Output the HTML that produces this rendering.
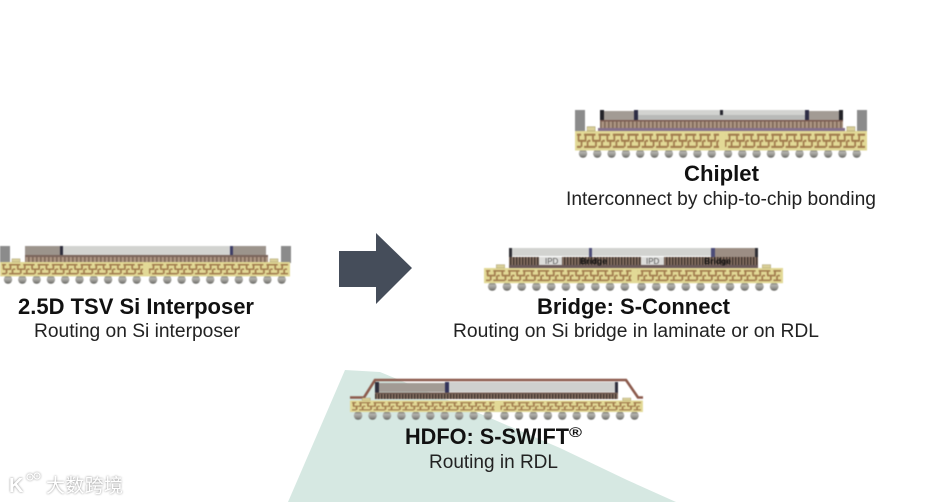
<!DOCTYPE html>
<html><head><meta charset="utf-8"><style>
html,body{margin:0;padding:0;background:#fff;width:936px;height:502px;overflow:hidden}
svg{display:block}
text{font-family:"Liberation Sans","Noto Sans CJK SC",sans-serif;fill:#111}
.t{font-weight:bold;font-size:22px}
.s{font-size:19px;fill:#222}
.p{filter:blur(.45px)}
.l{filter:blur(.25px)}
</style></head><body>
<svg width="936" height="502" viewBox="0 0 936 502" xmlns="http://www.w3.org/2000/svg">
<defs>
<pattern id="brick" width="14.3" height="16" patternUnits="userSpaceOnUse">
<g stroke="#a07a4c" stroke-width="1.7" fill="none">
<path d="M0 3H6M9 3H14.3M3 8H11M0 8H1M13 8H14.3M0 13H6M9 13H14.3M3.5 3V8M10.5 3V8M6.5 8V13M12.5 8V13"/>
</g>
</pattern>
<linearGradient id="ball" x1="0" y1="0" x2="0" y2="1"><stop offset="0" stop-color="#6f6e68"/><stop offset=".35" stop-color="#b4b3ad"/><stop offset=".75" stop-color="#8d8c88"/><stop offset="1" stop-color="#5c5c56"/></linearGradient>
<pattern id="fine" width="4" height="8" patternUnits="userSpaceOnUse">
<rect width="4" height="8" fill="#ad9584"/><rect width="1.6" height="8" fill="#7e6858"/>
</pattern>
<pattern id="bridgep" width="3" height="8" patternUnits="userSpaceOnUse">
<rect width="3" height="8" fill="#8a7466"/><rect width="1.4" height="8" fill="#3f342e"/>
</pattern>
<g id="balls">
<g fill="url(#ball)">
<circle cx="8" cy="3.6" r="4.2"/><circle cx="22.3" cy="3.6" r="4.2"/><circle cx="36.6" cy="3.6" r="4.2"/><circle cx="50.9" cy="3.6" r="4.2"/><circle cx="65.2" cy="3.6" r="4.2"/><circle cx="79.5" cy="3.6" r="4.2"/><circle cx="93.8" cy="3.6" r="4.2"/><circle cx="108.1" cy="3.6" r="4.2"/><circle cx="122.4" cy="3.6" r="4.2"/><circle cx="136.7" cy="3.6" r="4.2"/>
<circle cx="153" cy="3.6" r="4.2"/><circle cx="167.3" cy="3.6" r="4.2"/><circle cx="181.6" cy="3.6" r="4.2"/><circle cx="195.9" cy="3.6" r="4.2"/><circle cx="210.2" cy="3.6" r="4.2"/><circle cx="224.5" cy="3.6" r="4.2"/><circle cx="238.8" cy="3.6" r="4.2"/><circle cx="253.1" cy="3.6" r="4.2"/><circle cx="267.4" cy="3.6" r="4.2"/><circle cx="281.7" cy="3.6" r="4.2"/>
</g>
</g>
<g id="sub">
<rect width="290" height="16" fill="#e2d996"/>
<rect x="2" width="141" height="16" fill="url(#brick)"/>
<rect x="149" width="139" height="16" fill="url(#brick)"/>
<rect x="12" y="-3.5" width="8" height="3.5" fill="#d9cf98" stroke="#a89e70" stroke-width=".5"/>
<rect x="270" y="-3.5" width="8" height="3.5" fill="#d9cf98" stroke="#a89e70" stroke-width=".5"/>
</g>
</defs>
<rect width="936" height="502" fill="#fff"/>

<!-- teal wedge -->
<polygon points="345,370 380,372 467,408 560,448 627,480 676,502 288,502" fill="#d6e8e2"/>

<!-- arrow -->
<polygon points="339,251 376,251 376,233 412,268 376,304 376,287 339,287" fill="#454d5a"/>

<!-- Interposer -->
<g class="p">
<rect x="0" y="246" width="10" height="17" fill="#8b8b8b"/>
<rect x="281" y="246" width="10" height="17" fill="#8b8b8b"/>
<rect x="25" y="246" width="38" height="10" fill="#9c948c"/>
<rect x="63" y="246" width="167" height="9" fill="#d2d3d0"/>
<rect x="60" y="246" width="3" height="10" fill="#2e2e3c"/>
<rect x="230" y="246" width="3" height="10" fill="#3e3e66"/>
<rect x="233" y="246" width="33" height="10" fill="#9c948c"/>
<rect x="25" y="255" width="243" height="2" fill="#7b655c"/>
<rect x="25" y="257" width="243" height="5" fill="url(#fine)"/>
<use href="#balls" x="0" y="276"/>
<g transform="translate(0 262) scale(1 .9)"><use href="#sub"/></g>
</g>

<!-- Chiplet -->
<g class="p">
<rect x="575" y="110" width="10" height="21" fill="#8b8b8b"/>
<rect x="857" y="110" width="10" height="21" fill="#8b8b8b"/>
<rect x="600" y="110" width="4" height="10" fill="#232328"/>
<rect x="634" y="110" width="4" height="10" fill="#2d2d44"/>
<rect x="604" y="111" width="30" height="9" fill="#a29b94"/>
<rect x="638" y="110" width="167" height="5" fill="#d2d3d0"/>
<rect x="638" y="115" width="167" height="5" fill="#b8bab8"/>
<rect x="720" y="110" width="3" height="5" fill="#26262e"/>
<rect x="805" y="110" width="4" height="10" fill="#2d2d44"/>
<rect x="809" y="111" width="30" height="9" fill="#a29b94"/>
<rect x="839" y="110" width="4" height="10" fill="#232328"/>
<rect x="600" y="120" width="243" height="1.5" fill="#7b5a50"/>
<rect x="600" y="121.5" width="243" height="7" fill="url(#fine)"/>
<rect x="598" y="128" width="247" height="3" fill="#84708c"/>
<use href="#balls" x="575" y="150"/>
<g transform="translate(575 131) scale(1.007 1.22)"><use href="#sub"/></g>
</g>

<!-- Bridge -->
<g class="p">
<rect x="509" y="248" width="3" height="9" fill="#2e2e34"/>
<rect x="512" y="248" width="191" height="8" fill="#d2d3d0"/>
<rect x="589" y="248" width="3" height="9" fill="#4c4c78"/>
<rect x="711" y="248" width="4" height="9" fill="#4c4c78"/>
<rect x="715" y="248" width="40" height="9" fill="#9c8e84"/>
<rect x="703" y="248" width="8" height="8" fill="#d2d3d0"/>
<rect x="755" y="248" width="3" height="9" fill="#2e2e34"/>
<rect x="509" y="257" width="249" height="9" fill="url(#bridgep)"/>
<rect x="539" y="257" width="23" height="8" fill="#dcdcda"/>
<rect x="641" y="257" width="23" height="8" fill="#dcdcda"/>
<rect x="509" y="265" width="249" height="3" fill="#6b5a5a"/>
<text x="545" y="264" font-size="8" style="fill:#555">IPD</text>
<text x="646" y="264" font-size="8" style="fill:#555">IPD</text>
<text x="580" y="264" font-size="8" font-weight="bold" textLength="27" lengthAdjust="spacingAndGlyphs">Bridge</text>
<text x="704" y="264" font-size="8" font-weight="bold" textLength="27" lengthAdjust="spacingAndGlyphs">Bridge</text>
<g transform="translate(484 283) scale(1.03 1)"><use href="#balls"/></g>
<g transform="translate(484 268) scale(1.031 .95)"><use href="#sub"/></g>
</g>

<!-- HDFO -->
<g class="p">
<polyline points="350,397.5 364,397.5 375,380 626,380 638,397.5 643,397.5" fill="none" stroke="#8b5a4c" stroke-width="2.6"/>
<rect x="375" y="382" width="4" height="11" fill="#2e2e3c"/>
<rect x="379" y="383" width="66" height="9" fill="#a29b94"/>
<rect x="445" y="382" width="4" height="11" fill="#33335a"/>
<rect x="449" y="382" width="166" height="10" fill="#cfd0ce"/>
<rect x="615" y="382" width="3" height="11" fill="#2e2e3c"/>
<rect x="375" y="392.5" width="243" height="1.5" fill="#6f5a50"/>
<rect x="375" y="394" width="243" height="5" fill="url(#bridgep)"/>
<g transform="translate(350 412) scale(1.01 1)"><use href="#balls"/></g>
<g transform="translate(350 400.5) scale(1.01 .72)"><use href="#sub"/></g>
</g>

<!-- labels -->
<g class="l">
<text class="t" x="684" y="181" textLength="75" lengthAdjust="spacingAndGlyphs">Chiplet</text>
<text class="s" x="566" y="205" textLength="310" lengthAdjust="spacingAndGlyphs">Interconnect by chip-to-chip bonding</text>
<text class="t" x="18" y="314" textLength="236" lengthAdjust="spacingAndGlyphs">2.5D TSV Si Interposer</text>
<text class="s" x="34" y="337" textLength="206" lengthAdjust="spacingAndGlyphs">Routing on Si interposer</text>
<text class="t" x="537" y="314" textLength="193" lengthAdjust="spacingAndGlyphs">Bridge: S-Connect</text>
<text class="s" x="453" y="337" textLength="366" lengthAdjust="spacingAndGlyphs">Routing on Si bridge in laminate or on RDL</text>
<text class="t" x="405" y="444" textLength="164" lengthAdjust="spacingAndGlyphs">HDFO: S-SWIFT</text>
<text x="569" y="437" font-size="14" font-weight="bold" textLength="13" lengthAdjust="spacingAndGlyphs">®</text>
<text class="s" x="429" y="468" textLength="129" lengthAdjust="spacingAndGlyphs">Routing in RDL</text>
</g>

<!-- watermark -->
<g style="filter:drop-shadow(0 0 1px #888)">
<text x="9" y="492" font-size="20" font-weight="bold" style="fill:#fff">K</text>
<circle cx="30" cy="477" r="3" fill="none" stroke="#fff" stroke-width="1.2"/>
<circle cx="37" cy="476" r="3" fill="none" stroke="#fff" stroke-width="1.2"/>
<text x="46" y="492" font-size="19" textLength="77" style="fill:#fff">大数跨境</text>
</g>
</svg>
</body></html>
